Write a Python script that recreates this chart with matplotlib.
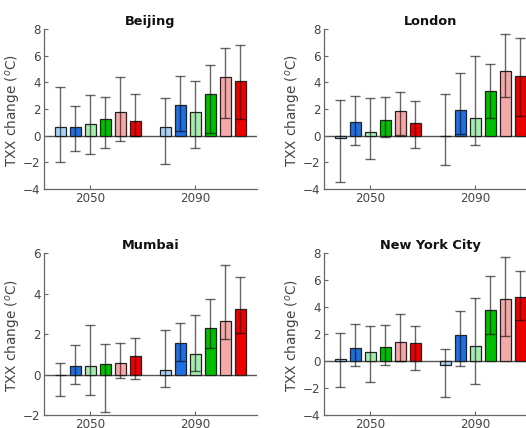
"""
Projected change in annual max temperature (TXX) for four cities
"""
import matplotlib.pyplot as plt
import numpy as np

# Szenarien: je 6 Balken pro Zeitraum (2050, 2090)
farben = ["#a9d3f5", "#1f6fe0", "#a8ebb0", "#00bf00", "#f6a9a9", "#ee0000"]
zeitraeume = ["2050", "2090"]

staedte = ["Beijing", "London", "Mumbai", "New York City"]

# Mittelwerte, 12 Werte: erst 2050, dann 2090
mittel = {
    "Beijing": [0.62, 0.66, 0.84, 1.23, 1.75, 1.13,
                0.66, 2.30, 1.75, 3.13, 4.40, 4.13],
    "London": [-0.20, 1.02, 0.27, 1.14, 1.86, 0.94,
               -0.05, 1.93, 1.31, 3.32, 4.83, 4.50],
    "Mumbai": [-0.02, 0.41, 0.44, 0.52, 0.59, 0.92,
               0.23, 1.54, 1.03, 2.30, 2.64, 3.25],
    "New York City": [0.15, 0.99, 0.69, 1.08, 1.40, 1.33,
                      -0.27, 1.90, 1.10, 3.79, 4.60, 4.73],
}
# Untere / obere Grenzen der Fehlerbalken
unten = {
    "Beijing": [-2.00, -1.15, -1.40, -0.95, -0.37, 0.00,
                -2.10, 0.37, -0.95, 0.20, 1.33, 1.23],
    "London": [-3.44, -0.72, -1.73, -0.12, 0.05, -0.94,
               -2.20, 0.10, -0.67, 1.34, 2.90, 1.44],
    "Mumbai": [-1.05, -0.48, -1.00, -1.84, -0.15, -0.21,
               -0.59, 0.66, 0.16, 1.31, 1.77, 2.08],
    "New York City": [-1.95, -0.37, -1.58, -0.30, 0.00, -0.69,
                      -2.68, -0.37, -1.72, 2.02, 1.87, 3.03],
}
oben = {
    "Beijing": [3.68, 2.25, 3.03, 2.90, 4.40, 3.10,
                2.80, 4.50, 4.10, 5.30, 6.55, 6.82],
    "London": [2.65, 2.97, 2.80, 2.90, 3.30, 2.62,
               3.12, 4.68, 5.94, 5.40, 7.60, 7.33],
    "Mumbai": [0.56, 1.46, 2.44, 1.51, 1.56, 1.82,
               2.20, 2.56, 2.97, 3.72, 5.41, 4.85],
    "New York City": [2.08, 2.78, 2.59, 2.68, 3.47, 2.64,
                      0.91, 3.69, 4.68, 6.28, 7.76, 6.67],
}
y_bereich = {
    "Beijing": (-4, 8), "London": (-4, 8),
    "Mumbai": (-2, 6), "New York City": (-4, 8),
}

# Balkenpositionen: zwei Gruppen mit Abstand
x = np.array([0, 1, 2, 3, 4, 5, 7, 8, 9, 10, 11, 12])

# Achsenpositionen in Pixeln (links, oben, unten) bei 526x428
W, H = 526, 428
breite_px = 212.7
positionen = {
    "Beijing": (44, 29, 189),
    "London": (324, 29, 189),
    "Mumbai": (44, 253.3, 415),
    "New York City": (324, 253.3, 415),
}

grau = "#444444"
fig = plt.figure(figsize=(W / 100, H / 100), dpi=100)

for stadt in staedte:
    links, oben_px, unten_px = positionen[stadt]
    ax = fig.add_axes([links / W, 1 - unten_px / H,
                       breite_px / W, (unten_px - oben_px) / H])
    m = np.array(mittel[stadt])
    lo = np.array(unten[stadt])
    hi = np.array(oben[stadt])

    ax.bar(x, m, width=0.74, color=farben * 2, edgecolor="#222222",
           linewidth=0.9, zorder=2)
    ax.errorbar(x, m, yerr=[m - lo, hi - m], fmt="none", ecolor="black",
                alpha=0.6, elinewidth=1.0, capsize=3.6, capthick=1.0,
                zorder=3)
    ax.axhline(0, color="#555555", linewidth=1.0, zorder=1)

    ax.set_xlim(-1.07, 13.11)
    ax.set_ylim(*y_bereich[stadt])
    ax.set_yticks(np.arange(y_bereich[stadt][0], y_bereich[stadt][1] + 1, 2))
    ax.set_xticks([2, 9])
    ax.set_xticklabels(zeitraeume)

    ax.set_title(stadt, fontsize=9.3, fontweight="bold", color="#111111",
                 pad=3)
    ax.set_ylabel("TXX change ($^{o}$C)", fontsize=9.8, color=grau)
    ax.yaxis.set_label_coords(-0.1, 0.49)

    ax.spines["top"].set_visible(False)
    ax.spines["right"].set_visible(False)
    for s in ["left", "bottom"]:
        ax.spines[s].set_color("#666666")
        ax.spines[s].set_linewidth(0.9)
    ax.tick_params(direction="in", length=3, labelsize=8.6,
                   colors="#666666", labelcolor=grau, pad=2.5)

plt.savefig("out.png", dpi=100)
